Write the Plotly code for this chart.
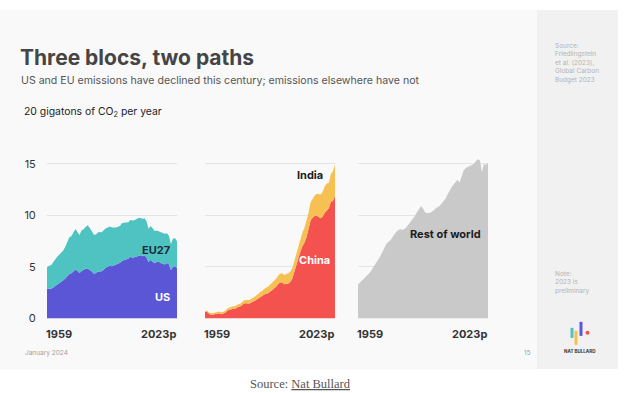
import plotly.graph_objects as go

W, H = 624, 393
H_FIG = 401  # rendered canvas height (compensates vertical squeeze seen in the capture)

years = list(range(1959, 2024))
first_label, last_label = "1959", "2023p"
y_ticks = [0, 5, 10, 15]

us = [2.89, 2.91, 2.89, 3.01, 3.14, 3.27, 3.39, 3.57, 3.70, 3.89,
      4.08, 4.33, 4.39, 4.61, 4.76, 4.60, 4.41, 4.62, 4.74, 4.83,
      4.84, 4.72, 4.59, 4.37, 4.38, 4.56, 4.58, 4.58, 4.76, 4.96,
      5.04, 5.12, 5.07, 5.17, 5.27, 5.36, 5.42, 5.61, 5.69, 5.73,
      5.80, 6.01, 5.90, 5.95, 5.99, 6.10, 6.13, 6.05, 6.13, 5.91,
      5.48, 5.68, 5.56, 5.36, 5.48, 5.53, 5.38, 5.29, 5.25, 5.38,
      5.26, 4.71, 5.03, 5.06, 4.91]
eu27 = [2.05, 2.20, 2.28, 2.45, 2.62, 2.72, 2.80, 2.84, 2.90, 3.08,
        3.32, 3.55, 3.60, 3.72, 3.92, 3.80, 3.68, 3.93, 3.92, 4.05,
        4.20, 4.08, 3.88, 3.78, 3.74, 3.78, 3.82, 3.80, 3.82, 3.80,
        3.80, 3.80, 3.75, 3.62, 3.55, 3.54, 3.58, 3.66, 3.59, 3.60,
        3.53, 3.55, 3.60, 3.58, 3.65, 3.65, 3.62, 3.63, 3.60, 3.52,
        3.22, 3.30, 3.20, 3.13, 3.05, 2.91, 2.96, 2.96, 2.97, 2.89,
        2.78, 2.53, 2.72, 2.74, 2.57]
china = [0.62, 0.66, 0.45, 0.37, 0.38, 0.40, 0.45, 0.50, 0.42, 0.46,
         0.56, 0.77, 0.86, 0.91, 0.95, 0.97, 1.10, 1.14, 1.26, 1.46,
         1.49, 1.47, 1.45, 1.57, 1.64, 1.77, 1.92, 2.03, 2.17, 2.34,
         2.39, 2.46, 2.59, 2.73, 2.91, 3.09, 3.36, 3.50, 3.51, 3.32,
         3.35, 3.40, 3.53, 3.87, 4.54, 5.23, 5.90, 6.53, 7.03, 7.38,
         7.90, 8.62, 9.53, 9.78, 9.96, 9.97, 9.85, 9.73, 9.92, 10.29,
         10.49, 10.72, 11.34, 11.40, 11.90]
india = [0.11, 0.12, 0.13, 0.14, 0.15, 0.15, 0.17, 0.17, 0.18, 0.19,
         0.19, 0.20, 0.21, 0.22, 0.23, 0.24, 0.26, 0.27, 0.28, 0.29,
         0.31, 0.31, 0.35, 0.37, 0.40, 0.42, 0.45, 0.49, 0.52, 0.56,
         0.60, 0.62, 0.66, 0.70, 0.72, 0.76, 0.81, 0.85, 0.89, 0.91,
         0.96, 0.98, 1.00, 1.02, 1.06, 1.12, 1.18, 1.25, 1.34, 1.45,
         1.58, 1.66, 1.75, 1.90, 1.98, 2.14, 2.18, 2.29, 2.40, 2.57,
         2.61, 2.44, 2.69, 2.88, 3.06]
rest_of_world = [3.30, 3.50, 3.65, 3.85, 4.00, 4.25, 4.50, 4.80, 5.10, 5.45,
                 5.75, 6.05, 6.45, 6.85, 7.25, 7.45, 7.60, 7.90, 8.20, 8.45,
                 8.60, 8.65, 8.60, 8.70, 8.90, 9.15, 9.40, 9.60, 9.95, 10.30,
                 10.55, 10.90, 10.70, 10.30, 10.20, 10.25, 10.30, 10.45, 10.65, 10.80,
                 10.90, 11.10, 11.40, 11.60, 12.00, 12.40, 12.70, 13.00, 13.25, 13.45,
                 13.20, 13.90, 14.35, 14.60, 14.70, 14.75, 14.85, 15.00, 15.25, 15.45,
                 15.35, 14.20, 15.00, 14.90, 15.10]

C_US, C_EU = "#5a56d6", "#4ec3c2"
C_CN, C_IN = "#f4524f", "#f6c052"
C_ROW = "#c9c9c9"
FONT = "Inter"


def px(x):
    return x / W


def py(y):
    return 1 - y / H


fig = go.Figure()


def area(y, color, name, xa, ya, group):
    fig.add_trace(go.Scatter(
        x=years, y=y, name=name, mode="lines", line=dict(width=0, color=color),
        fillcolor=color, stackgroup=group, xaxis=xa, yaxis=ya,
        hoverinfo="skip", showlegend=False))


area(us, C_US, "US", "x", "y", "a")
area(eu27, C_EU, "EU27", "x", "y", "a")
area(china, C_CN, "China", "x2", "y2", "b")
area(india, C_IN, "India", "x2", "y2", "b")
area(rest_of_world, C_ROW, "Rest of world", "x3", "y3", "c")

ydom = [py(317.7), py(153.2)]
xdoms = [[px(47), px(177)], [px(205), px(335)], [px(358), px(488)]]

layout = dict(
    width=W, height=H_FIG, margin=dict(l=0, r=0, t=0, b=0),
    paper_bgcolor="white", plot_bgcolor="rgba(0,0,0,0)",
    font=dict(family=FONT, color="#333"),
    showlegend=False,
)
for i, dom in enumerate(xdoms, start=1):
    sfx = "" if i == 1 else str(i)
    layout["xaxis" + sfx] = dict(domain=dom, range=[1959, 2023], showgrid=False,
                                 zeroline=False, showticklabels=False,
                                 anchor="y" + sfx, fixedrange=True)
    layout["yaxis" + sfx] = dict(domain=ydom, range=[0, 16], tickvals=y_ticks,
                                 showgrid=True, gridcolor="#e4e4e4", gridwidth=1,
                                 zeroline=False, showticklabels=(i == 1),
                                 ticks="outside" if i == 1 else "", ticklen=8,
                                 tickcolor="rgba(0,0,0,0)",
                                 tickfont=dict(family=FONT, size=11, color="#333"),
                                 anchor="x" + sfx, fixedrange=True)
fig.update_layout(**layout)

shapes = [
    dict(type="rect", xref="paper", yref="paper", x0=0, x1=px(537), y0=py(368), y1=py(10),
         fillcolor="#f9f9f9", line=dict(width=0), layer="below"),
    dict(type="rect", xref="paper", yref="paper", x0=px(537), x1=px(618), y0=py(368), y1=py(10),
         fillcolor="#f1f1f1", line=dict(width=0), layer="below"),
]
# logo bars
for (cx, y0, y1, col) in [(572, 327, 337, "#4ec3c2"), (576, 330, 344, "#f6c052"),
                          (581, 321, 335, "#5a56d6")]:
    shapes.append(dict(type="rect", xref="paper", yref="paper", x0=px(cx - 1.5), x1=px(cx + 1.5),
                       y0=py(y1), y1=py(y0), fillcolor=col, line=dict(width=0)))
shapes.append(dict(type="circle", xref="paper", yref="paper", x0=px(585.5), x1=px(589.5),
                   y0=py(334), y1=py(330), fillcolor="#f4524f", line=dict(width=0)))
fig.update_layout(shapes=shapes)

ann = []


def txt(text, x, y, size, color="#333", xanchor="left", yanchor="middle", family=FONT, **kw):
    ann.append(dict(text=text, x=px(x), y=py(y), xref="paper", yref="paper",
                    xanchor=xanchor, yanchor=yanchor, showarrow=False,
                    font=dict(family=family, size=size, color=color), **kw))


txt("<b>Three blocs, two paths</b>", 18, 57, 21, "#454545")
txt("US and EU emissions have declined this century; emissions elsewhere have not", 19, 80, 10.6, "#555")
txt("20 gigatons of CO<sub>2</sub> per year", 22, 112, 10.4, "#222")

txt("<b>EU27</b>", 172, 249, 11, "#1c2a3a", xanchor="right")
txt("<b>US</b>", 172, 296, 11, "white", xanchor="right")
txt("<b>India</b>", 325, 175, 11, "#1c1c1c", xanchor="right")
txt("<b>China</b>", 332, 259, 11, "white", xanchor="right")
txt("<b>Rest of world</b>", 483, 233, 11, "#1c1c1c", xanchor="right")

# x tick labels per panel (data coordinates)
for sfx in ["", "2", "3"]:
    ann.append(dict(text="<b>" + first_label + "</b>", x=years[0], y=py(333), xref="x" + sfx,
                    yref="paper", xanchor="left", yanchor="middle", xshift=-3, showarrow=False,
                    font=dict(family=FONT, size=11, color="#333")))
    ann.append(dict(text="<b>" + last_label + "</b>", x=years[-1], y=py(333), xref="x" + sfx,
                    yref="paper", xanchor="right", yanchor="middle", xshift=1, showarrow=False,
                    font=dict(family=FONT, size=11, color="#333")))

txt("January 2024", 23, 352, 6.5, "#a0a0a0")
txt("15", 527, 352, 6.5, "#a0a0a0", xanchor="center")

txt("Source:<br>Friedlingstein<br>et al. (2023),<br>Global Carbon<br>Budget 2023", 553, 63, 6.5,
    "#b3b3b3", align="left")
txt("Note:<br>2023 is<br>preliminary", 553, 282, 6.5, "#b3b3b3", align="left")
txt("<b>NAT BULLARD</b>", 580, 351, 4.5, "#333", xanchor="center")

txt("Source: <u>Nat Bullard</u>", 300, 383, 12.5, "#555", xanchor="center", family="Liberation Serif")

fig.update_layout(annotations=ann)

fig.write_html("out.html", config={"displayModeBar": False},
               post_script="document.body.style.margin='0';document.body.style.overflow='hidden';")
